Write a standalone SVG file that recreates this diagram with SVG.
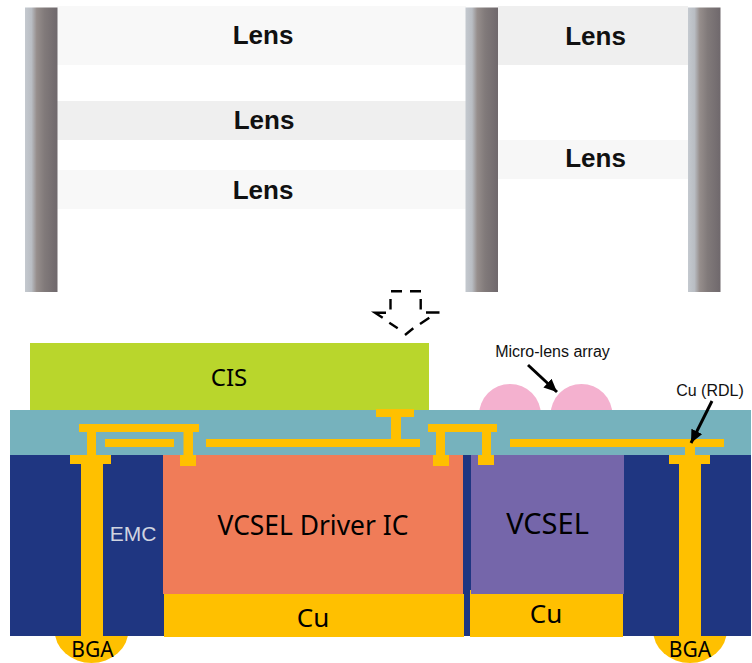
<svg xmlns="http://www.w3.org/2000/svg" width="752" height="663" viewBox="0 0 752 663">
<style>
.lens{font:bold 26px "Liberation Sans",Arial,sans-serif;fill:#111;text-anchor:middle}
.big{font-family:"Noto Sans",sans-serif;fill:#000;text-anchor:middle}
.small{font:16px "Liberation Sans",Arial,sans-serif;fill:#111;text-anchor:middle}
.cu{fill:#ffc000}
.navy{fill:#1f3681}
.pillar{fill:url(#pg)}
.arrow{stroke:#000;stroke-width:3;fill:none;marker-end:url(#ah)}
</style>
<defs>
<linearGradient id="pg" x1="0" y1="0" x2="1" y2="0">
<stop offset="0" stop-color="#c4c9cf"/><stop offset=".2" stop-color="#b9bdc3"/><stop offset=".36" stop-color="#968e8c"/><stop offset=".6" stop-color="#817a7a"/><stop offset="1" stop-color="#6f686c"/>
</linearGradient>
<marker id="ah" markerUnits="userSpaceOnUse" markerWidth="14" markerHeight="14" refX="13" refY="6" orient="auto"><path d="M0 0L13 6L0 12Z" fill="#000"/></marker>
</defs>
<g id="lens-stack">
<rect x="57" y="6" width="409" height="59" fill="#f8f8f8"/>
<rect x="57" y="101" width="409" height="39" fill="#efefef"/>
<rect x="57" y="170" width="409" height="39" fill="#f8f8f8"/>
<rect x="498" y="6" width="190" height="59" fill="#efefef"/>
<rect x="498" y="140" width="190" height="39" fill="#f7f7f7"/>
<rect class="pillar" x="25" y="7.500" width="32.500" height="284.500"/>
<rect class="pillar" x="465.500" y="7.500" width="32.500" height="284.500"/>
<rect class="pillar" x="688" y="7.500" width="32.500" height="284.500"/>
<text class="lens" x="263" y="44">Lens</text>
<text class="lens" x="264" y="128.500">Lens</text>
<text class="lens" x="263" y="198.500">Lens</text>
<text class="lens" x="595.500" y="45">Lens</text>
<text class="lens" x="595.500" y="167">Lens</text>
</g>
<g id="down-arrow">
<path d="M391 291.300H402M410 291.300H421M390.500 299V309.500M420.700 299V309.500M426 312.500H439.500M429.300 317.700L420 324M413.300 328.300L405 335M397.700 328.300L389.300 322.700M382.700 317.700L375 312.700H386" fill="none" stroke="#000" stroke-width="2.400"/>
</g>
<g id="micro-lens">
<circle cx="510" cy="415" r="31" fill="#f4b1cf"/>
<circle cx="581.500" cy="415" r="31" fill="#f4b1cf"/>
</g>
<g id="bga-left"><ellipse cx="91.500" cy="630" rx="37" ry="33" fill="#ffc000"/></g>
<g id="bga-right"><ellipse cx="690" cy="630" rx="37" ry="33" fill="#ffc000"/></g>
<g id="cis"><rect x="30" y="343" width="399" height="67" fill="#b9d62c"/><text class="big" x="229" y="386" font-size="24">CIS</text></g>
<g id="rdl-layer"><rect x="10" y="410" width="741" height="45" fill="#76b2bd"/></g>
<g id="emc"><rect class="navy" x="10" y="455" width="741" height="181"/><text x="133" y="541" font-family="Liberation Sans,Arial,sans-serif" font-size="21" fill="#d0d4e0" text-anchor="middle">EMC</text></g>
<g id="vcsel-driver"><rect x="163" y="455" width="300" height="139" fill="#f07c58"/><text class="big" x="313" y="535" font-size="26.400">VCSEL Driver IC</text></g>
<g id="vcsel"><rect x="471" y="455" width="153" height="139" fill="#7566aa"/><text class="big" x="547.500" y="534" font-size="29">VCSEL</text></g>
<g id="cu-driver"><rect class="cu" x="164" y="594" width="300" height="43"/><text class="big" x="313" y="627" font-size="26">Cu</text></g>
<g id="cu-vcsel"><rect class="cu" x="470" y="594" width="153" height="43"/><rect class="cu" x="470" y="590" width="1" height="4"/><text class="big" x="546" y="623" font-size="26">Cu</text></g>
<g id="copper">
<rect class="cu" x="81" y="464" width="22" height="172"/>
<rect class="cu" x="70" y="455" width="41" height="9"/>
<rect class="cu" x="87" y="432" width="9" height="23"/>
<rect class="cu" x="79" y="424" width="120" height="8"/>
<rect class="cu" x="183.500" y="432" width="9.500" height="23"/>
<rect class="cu" x="180" y="455" width="16" height="11"/>
<rect class="cu" x="105" y="439" width="69" height="8"/>
<rect class="cu" x="206" y="439" width="214" height="8"/>
<rect class="cu" x="391" y="417" width="10" height="22"/>
<rect class="cu" x="376" y="409" width="38" height="8"/>
<rect class="cu" x="428" y="424" width="69" height="8"/>
<rect class="cu" x="436" y="432" width="9" height="23"/>
<rect class="cu" x="433" y="455" width="16" height="11"/>
<rect class="cu" x="482" y="432" width="9" height="23"/>
<rect class="cu" x="478" y="455" width="16" height="10"/>
<rect class="cu" x="510" y="439" width="214" height="8"/>
<rect class="cu" x="685" y="447" width="10" height="8"/>
<rect class="cu" x="669" y="455" width="41" height="9"/>
<rect class="cu" x="679" y="464" width="22" height="172"/>
</g>
<g id="labels">
<text class="small" x="552.500" y="357">Micro-lens array</text>
<text class="small" x="710" y="396">Cu (RDL)</text>
<text class="big" x="92.500" y="657" font-size="21">BGA</text>
<text class="big" x="690" y="657" font-size="21">BGA</text>
</g>
<g id="connectors">
<path class="arrow" d="M528 365L557 392"/>
<path class="arrow" d="M712 401L691 443"/>
</g>
</svg>
